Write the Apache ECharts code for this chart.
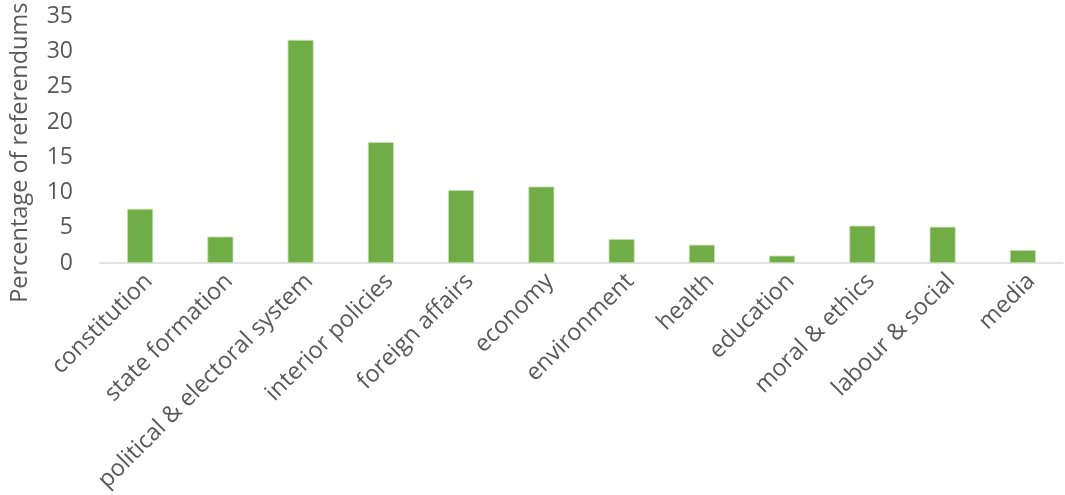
<!DOCTYPE html>
<html><head><meta charset="utf-8">
<script src="https://cdn.jsdelivr.net/npm/echarts@6/dist/echarts.min.js"></script>
<style>html,body{margin:0;padding:0;background:#fff}#c{width:1065px;height:495px}</style>
</head><body><div id="c"></div>
<script>
const categories = ["constitution","state formation","political & electoral system","interior policies","foreign affairs","economy","environment","health","education","moral & ethics","labour & social","media"];
const values = [7.7, 3.75, 31.65, 17.15, 10.35, 10.85, 3.4, 2.6, 1.05, 5.3, 5.15, 1.85];
const yTicks = {min: 0, max: 35, interval: 5};
const yTitle = "Percentage of referendums";

const chart = echarts.init(document.getElementById('c'), null, {renderer: 'canvas'});
chart.setOption({
  animation: false,
  backgroundColor: '#ffffff',
  textStyle: {fontFamily: 'Open Sans'},
  grid: {left: 97, right: 2, top: 14.5, bottom: 231, containLabel: false},
  xAxis: {
    type: 'category', data: categories,
    axisLine: {lineStyle: {color: '#D9D9D9', width: 1.5}},
    axisTick: {show: false},
    axisLabel: {rotate: 45, interval: 0, margin: 6, verticalAlign: 'top', color: '#595959', fontSize: 23.5, fontFamily: 'Open Sans'}
  },
  yAxis: {
    type: 'value', min: yTicks.min, max: yTicks.max, interval: yTicks.interval,
    name: yTitle, nameLocation: 'middle', nameGap: 68,
    nameTextStyle: {color: '#595959', fontSize: 23.5, fontFamily: 'Open Sans', padding: [0, 26, 0, 0]},
    axisLine: {show: false}, axisTick: {show: false}, splitLine: {show: false},
    axisLabel: {margin: 27, color: '#595959', fontSize: 23, fontFamily: 'Open Sans'}
  },
  series: [{
    type: 'bar', data: values, barWidth: 26,
    itemStyle: {color: '#70AD47', borderColor: '#C5E0B4', borderWidth: 0.8}
  }]
});
</script></body></html>
